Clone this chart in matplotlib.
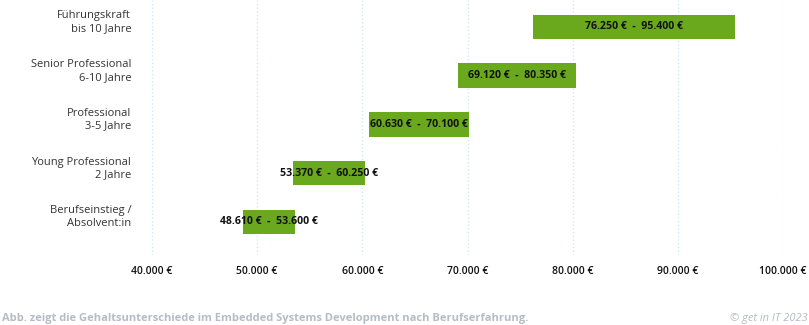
import matplotlib.pyplot as plt
from matplotlib.ticker import FuncFormatter
from matplotlib.transforms import ScaledTranslation

plt.rcParams['font.family'] = ['Open Sans', 'DejaVu Sans']

# data (bottom to top)
categories = ['Berufseinstieg /\nAbsolvent:in', 'Young Professional\n2 Jahre',
              'Professional\n3-5 Jahre', 'Senior Professional\n6-10 Jahre',
              'Führungskraft\nbis 10 Jahre']
low = [48610, 53370, 60630, 69120, 76250]
high = [53600, 60250, 70100, 80350, 95400]
ticks = [40000, 50000, 60000, 70000, 80000, 90000, 100000]


def euro(v):
    return f'{int(v):,}'.replace(',', '.') + ' €'


fig = plt.figure(figsize=(8.09, 3.25), dpi=100)
ax = fig.add_axes([152 / 809, 1 - 255 / 325, (783 - 152) / 809, 255 / 325])

y = list(range(len(categories)))
widths = [h - l for l, h in zip(low, high)]
ax.barh(y, widths, left=low, height=0.5, color='#6aa81e', zorder=2)

for yi, l, h in zip(y, low, high):
    ax.text((l + h) / 2, yi, f'{euro(l)}  -  {euro(h)}', ha='center', va='center',
            fontsize=7.6, fontweight='bold', color='#111111', zorder=3)

ax.set_xlim(40000, 100000)
ax.set_ylim(-0.68, 4.55)
ax.set_xticks(ticks)
ax.xaxis.set_major_formatter(FuncFormatter(lambda v, p: euro(v)))
ax.set_yticks(y)
ax.set_yticklabels(categories, fontsize=8, color='#333333', ha='right')
ax.tick_params(axis='x', length=0, pad=8, labelsize=7.5, labelcolor='#111111')
ax.tick_params(axis='y', length=0, pad=15)
for lbl in ax.get_xticklabels():
    lbl.set_fontweight('semibold')
# category labels sit a little above the bar centre
shift = ScaledTranslation(0, 5 / 72, fig.dpi_scale_trans)
for lbl in ax.get_yticklabels():
    lbl.set_transform(lbl.get_transform() + shift)

ax.grid(axis='x', color='#d6e6f0', linestyle=':', linewidth=1, zorder=0)
for s in ax.spines.values():
    s.set_visible(False)

fig.text(0.002, 1 - 318 / 325, 'Abb. zeigt die Gehaltsunterschiede im Embedded Systems Development nach Berufserfahrung.',
         fontsize=8, fontweight='bold', color='#b5bcc3', ha='left', va='center')
fig.text(0.998, 1 - 318 / 325, '© get in IT 2023', fontsize=8, style='italic',
         color='#b5bcc3', ha='right', va='center')

fig.savefig('out.png', dpi=100)
